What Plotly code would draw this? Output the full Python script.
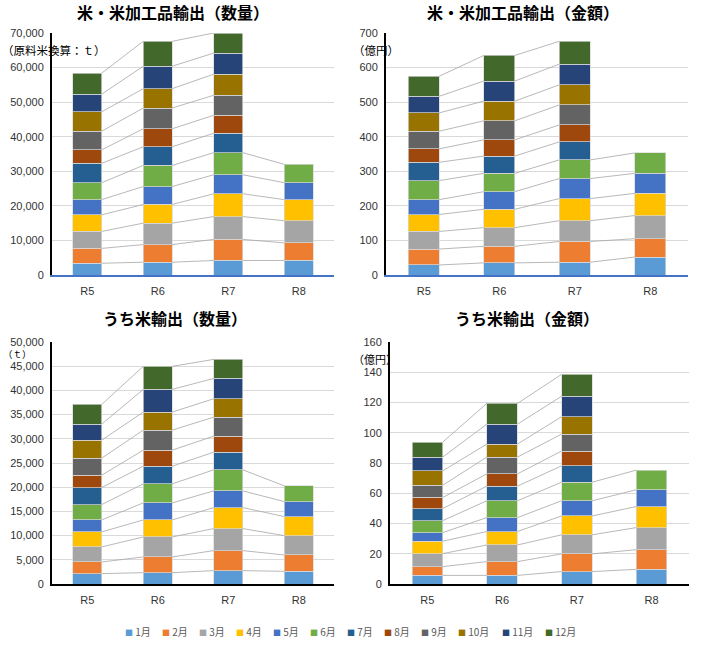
import plotly.graph_objects as go

years = ["R5", "R6", "R7", "R8"]
months = ["1月", "2月", "3月", "4月", "5月", "6月", "7月", "8月", "9月", "10月", "11月", "12月"]
colors = ["#5B9BD5", "#ED7D31", "#A5A5A5", "#FFC000", "#4472C4", "#70AD47",
          "#255E91", "#9E480E", "#636363", "#997300", "#264478", "#43682B"]

# 米・米加工品輸出（数量, 原料米換算 t）
qty_all_R5 = [3400, 4300, 4900, 4800, 4400, 4900, 5600, 3900, 5400, 5600, 5100, 6100]
qty_all_R6 = [3700, 5100, 6200, 5400, 5200, 6100, 5400, 5200, 6000, 5600, 6500, 7200]
qty_all_R7 = [4200, 6100, 6600, 6600, 5500, 6400, 5600, 5200, 5800, 6100, 6100, 5800]
qty_all_R8 = [4200, 5100, 6400, 6100, 4900, 5300]

# 米・米加工品輸出（金額, 億円）
val_all_R5 = [29, 46, 51, 49, 43, 55, 53, 39, 51, 53, 48, 58]
val_all_R6 = [35, 48, 54, 53, 51, 53, 50, 47, 55, 57, 58, 74]
val_all_R7 = [37, 60, 60, 64, 58, 54, 52, 49, 58, 58, 60, 66]
val_all_R8 = [52, 53, 67, 64, 58, 59]

# うち米輸出（数量, t）
qty_rice_R5 = [2140, 2410, 3110, 3100, 2480, 3170, 3520, 2550, 3520, 3720, 3310, 4070]
qty_rice_R6 = [2340, 3250, 4130, 3520, 3520, 3930, 3650, 3320, 4130, 3730, 4690, 4760]
qty_rice_R7 = [2760, 4140, 4550, 4340, 3450, 4350, 3650, 3310, 3930, 3800, 4200, 3930]
qty_rice_R8 = [2620, 3380, 4000, 3930, 3100, 3250]

# うち米輸出（金額, 億円）
val_rice_R5 = [5.7, 5.8, 8.6, 8.2, 5.7, 7.9, 8.0, 7.3, 8.1, 9.5, 9.1, 9.9]
val_rice_R6 = [5.7, 9.1, 11.0, 8.9, 9.2, 11.1, 9.7, 8.1, 11.1, 8.6, 13.2, 13.7]
val_rice_R7 = [8.2, 11.7, 12.6, 12.5, 10.0, 12.3, 10.8, 9.8, 11.2, 11.5, 13.5, 14.5]
val_rice_R8 = [9.7, 13.0, 14.6, 13.9, 11.1, 13.0]

titles = ["米・米加工品輸出（数量）", "米・米加工品輸出（金額）", "うち米輸出（数量）", "うち米輸出（金額）"]
units = ["（原料米換算：ｔ）", "（億円）", "（ｔ）", "（億円）"]

FW, FH = 706, 649


def px(X):
    return X / FW


def py(Y):
    return 1 - Y / FH


panels = [
    dict(data=[qty_all_R5, qty_all_R6, qty_all_R7, qty_all_R8], ymax=70000, dtick=10000,
         xd=[px(52), px(334)], yd=[py(275), py(33)], xline="#4472C4"),
    dict(data=[val_all_R5, val_all_R6, val_all_R7, val_all_R8], ymax=700, dtick=100,
         xd=[px(386), px(688)], yd=[py(275), py(33)], xline="#4472C4"),
    dict(data=[qty_rice_R5, qty_rice_R6, qty_rice_R7, qty_rice_R8], ymax=50000, dtick=5000,
         xd=[px(52), px(334)], yd=[py(584), py(342)], xline="#000000"),
    dict(data=[val_rice_R5, val_rice_R6, val_rice_R7, val_rice_R8], ymax=160, dtick=20,
         xd=[px(390), px(689)], yd=[py(584), py(342)], xline="#000000"),
]

BAR_W = 0.41
FONT = "Liberation Sans, Arial, Noto Sans CJK JP"
JP = "Noto Sans CJK JP"
fig = go.Figure()
layout = {}
annotations = []

for p_i, p in enumerate(panels):
    suffix = "" if p_i == 0 else str(p_i + 1)
    xa, ya = "x" + suffix, "y" + suffix
    xpos = list(range(len(years)))
    # series lines joining matching segment tops of neighbouring bars
    lx, ly = [], []
    for m in range(12):
        cums = []
        for yr in p["data"]:
            cums.append(sum(yr[: m + 1]) if m < len(yr) else None)
        for i in range(len(years) - 1):
            if cums[i] is not None and cums[i + 1] is not None:
                lx += [xpos[i] + BAR_W / 2, xpos[i + 1] - BAR_W / 2, None]
                ly += [cums[i], cums[i + 1], None]
    fig.add_trace(go.Scatter(x=lx, y=ly, mode="lines", line=dict(color="#A6A6A6", width=0.8),
                             xaxis=xa, yaxis=ya, showlegend=False, hoverinfo="skip"))
    for m in range(12):
        vals = [yr[m] if m < len(yr) else None for yr in p["data"]]
        fig.add_trace(go.Bar(x=xpos, y=vals, name=months[m], width=BAR_W,
                             marker=dict(color=colors[m], line=dict(color="#D9D9D9", width=0.7)),
                             xaxis=xa, yaxis=ya, showlegend=False))
    layout["xaxis" + suffix] = dict(domain=p["xd"], anchor=ya, range=[-0.5, 3.5],
                                    tickvals=xpos, ticktext=years, showline=True,
                                    linecolor=p["xline"], linewidth=2, showgrid=False,
                                    zeroline=False, ticks="outside", ticklen=5,
                                    tickcolor="rgba(0,0,0,0)", automargin=False,
                                    tickfont=dict(size=11, color="#333333", family=FONT))
    layout["yaxis" + suffix] = dict(domain=p["yd"], anchor=xa, range=[0, p["ymax"]],
                                    dtick=p["dtick"], tickformat=",", showline=True,
                                    linecolor="#000000", linewidth=2, showgrid=True,
                                    gridcolor="#D9D9D9", gridwidth=1, zeroline=False,
                                    ticks="outside", ticklen=4, tickcolor="rgba(0,0,0,0)",
                                    automargin=False,
                                    tickfont=dict(size=11, color="#333333", family=FONT))

# legend entries: coloured square glyph inside the entry text
legend_steps = [37, 37, 37, 37, 37, 37, 37, 37, 37, 44, 43, 90]
for m in range(12):
    fig.add_trace(go.Scatter(
        x=[None], y=[None], mode="markers",
        name='<span style="color:%s;font-size:8px">■</span> %s' % (colors[m], months[m]),
        marker=dict(symbol="square", size=1, color="rgba(0,0,0,0)"),
        legendwidth=legend_steps[m] / FW, showlegend=True))

title_pos = [(173, 12), (523, 12), (175, 318), (527, 318)]
for t, (tx, ty) in zip(titles, title_pos):
    annotations.append(dict(text="<b>" + t + "</b>", x=px(tx), y=py(ty), xref="paper",
                            yref="paper", showarrow=False, xanchor="center", yanchor="middle",
                            borderpad=0,
                            font=dict(size=16, color="#000000", family=JP)))
unit_pos = [(1, 50), (352, 50), (2, 354), (352, 359)]
unit_sizes = [11.5, 11.5, 9.5, 11]
for u, (ux, uy), us in zip(units, unit_pos, unit_sizes):
    annotations.append(dict(text=u, x=px(ux), y=py(uy), xref="paper", yref="paper",
                            showarrow=False, xanchor="left", yanchor="middle", borderpad=0,
                            font=dict(size=us, color="#000000", family=JP)))

fig.update_layout(
    width=FW, height=FH, margin=dict(l=0, r=0, t=0, b=0, pad=0, autoexpand=False),
    paper_bgcolor="white", plot_bgcolor="white", barmode="stack",
    font=dict(family=FONT),
    showlegend=True,
    legend=dict(orientation="h", traceorder="normal", x=px(127 - 42), xanchor="left",
                y=py(632), yanchor="middle",
                font=dict(size=10, color="#595959", family=JP),
                entrywidthmode="fraction", itemwidth=30,
                bgcolor="rgba(0,0,0,0)"),
    annotations=annotations,
    **layout,
)

# remove the browser's default page margin so the figure fills the window exactly
fig.write_html("out.html", config={"displayModeBar": False},
               post_script="document.body.style.margin='0px';")
